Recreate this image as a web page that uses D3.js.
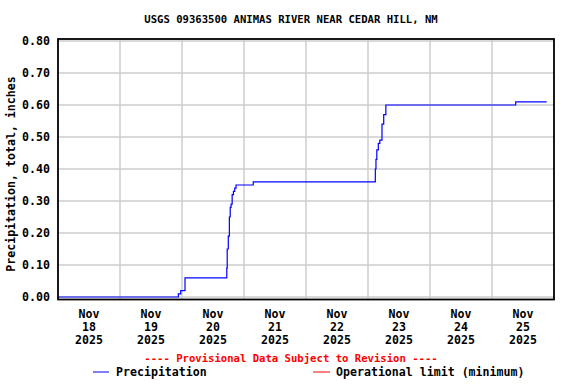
<!DOCTYPE html>
<html>
<head>
<meta charset="utf-8">
<script src="https://cdn.jsdelivr.net/npm/d3@7"></script>
<style>
  body { margin: 0; background: #fff; }
  text { font-family: "DejaVu Sans Mono", monospace; font-weight: bold; font-size: 11.6px; }
</style>
</head>
<body>
<div class="chart"></div>
<script>
const width = 576, height = 384;
const margin = ({top: 39, right: 22, bottom: 85, left: 58});

// precipitation, total (inches) - step series
const times = [
  "2025-11-18T00:00", "2025-11-19T22:35", "2025-11-19T23:30", "2025-11-20T01:10",
  "2025-11-20T17:20", "2025-11-20T17:30", "2025-11-20T17:55", "2025-11-20T18:20",
  "2025-11-20T18:40", "2025-11-20T19:00", "2025-11-20T19:25", "2025-11-20T19:55",
  "2025-11-20T20:25", "2025-11-20T20:55", "2025-11-21T03:35", "2025-11-23T02:50",
  "2025-11-23T03:05", "2025-11-23T03:25", "2025-11-23T04:00", "2025-11-23T04:35",
  "2025-11-23T05:25", "2025-11-23T06:05", "2025-11-23T06:55", "2025-11-25T09:10",
  "2025-11-25T21:10"
];
const precip = [
  0.00, 0.01, 0.02, 0.06,
  0.09, 0.15, 0.19, 0.25,
  0.28, 0.29, 0.32, 0.33,
  0.34, 0.35, 0.36, 0.40,
  0.43, 0.46, 0.48, 0.49,
  0.54, 0.57, 0.60, 0.61,
  0.61
];
const days = ["2025-11-18", "2025-11-19", "2025-11-20", "2025-11-21",
              "2025-11-22", "2025-11-23", "2025-11-24", "2025-11-25", "2025-11-26"];
const yTicks = [0, 0.1, 0.2, 0.3, 0.4, 0.5, 0.6, 0.7, 0.8];

const parse = d3.timeParse("%Y-%m-%dT%H:%M");
const parseDay = d3.timeParse("%Y-%m-%d");
const data = times.map((t, i) => ({t: parse(t), v: precip[i]}));
const dayDates = days.map(parseDay);

const svg = d3.select(".chart").append("svg")
  .attr("width", width).attr("height", height);

const x = d3.scaleTime()
  .domain([dayDates[0], dayDates[dayDates.length - 1]])
  .range([margin.left, width - margin.right]);
const y = d3.scaleLinear()
  .domain([0, 0.8])
  .range([297, 41]);

// grid
svg.append("g").selectAll("line").data(dayDates.slice(1, -1)).join("line")
  .attr("x1", d => x(d)).attr("x2", d => x(d))
  .attr("y1", margin.top).attr("y2", 299)
  .attr("stroke", "#cccccc").attr("stroke-width", 1.5);
svg.append("g").selectAll("line").data(yTicks).join("line")
  .attr("x1", margin.left).attr("x2", width - margin.right)
  .attr("y1", d => y(d)).attr("y2", d => y(d))
  .attr("stroke", "#cccccc").attr("stroke-width", 1.5);

// series
const line = d3.line().x(d => x(d.t)).y(d => y(d.v)).curve(d3.curveStepAfter);
svg.append("path").datum(data)
  .attr("d", line).attr("fill", "none")
  .attr("stroke", "#0000ff").attr("stroke-width", 1.2);

// frame
svg.append("rect")
  .attr("x", margin.left).attr("y", margin.top)
  .attr("width", width - margin.right - margin.left).attr("height", 299.5 - margin.top)
  .attr("fill", "none").attr("stroke", "#000").attr("stroke-width", 1.8);

// y axis labels
const yAxis = d3.axisLeft(y).tickValues(yTicks).tickFormat(d3.format(".2f")).tickSize(0).tickPadding(8);
svg.append("g").attr("transform", `translate(${margin.left},0)`).call(yAxis)
  .call(g => g.select(".domain").remove())
  .selectAll("text").attr("fill", "#000")
  .style("font-family", "DejaVu Sans Mono").style("font-size", "11.6px").style("font-weight", "bold");

// x axis labels (three lines at noon)
const fmtM = d3.timeFormat("%b"), fmtD = d3.timeFormat("%d"), fmtY = d3.timeFormat("%Y");
const xl = svg.append("g").selectAll("text").data(dayDates.slice(0, -1)).join("text")
  .attr("x", d => x(d3.timeHour.offset(d, 12)))
  .attr("text-anchor", "middle");
xl.append("tspan").attr("x", d => x(d3.timeHour.offset(d, 12))).attr("y", 318).text(fmtM);
xl.append("tspan").attr("x", d => x(d3.timeHour.offset(d, 12))).attr("y", 331).text(fmtD);
xl.append("tspan").attr("x", d => x(d3.timeHour.offset(d, 12))).attr("y", 344).text(fmtY);

// title
svg.append("text").attr("x", 291).attr("y", 23).attr("text-anchor", "middle")
  .style("font-size", "10.6px")
  .text("USGS 09363500 ANIMAS RIVER NEAR CEDAR HILL, NM");

// y title
svg.append("text").attr("transform", "translate(15,174) rotate(-90)")
  .attr("text-anchor", "middle").text("Precipitation, total, inches");

// provisional note
svg.append("text").attr("x", 291).attr("y", 362).attr("text-anchor", "middle")
  .style("font-size", "10.6px")
  .attr("fill", "#ff0000").text("---- Provisional Data Subject to Revision ----");

// legend
svg.append("line").attr("x1", 93).attr("x2", 109).attr("y1", 372).attr("y2", 372)
  .attr("stroke", "#0000ff");
svg.append("text").attr("x", 116).attr("y", 376).text("Precipitation");
svg.append("line").attr("x1", 313).attr("x2", 330).attr("y1", 372).attr("y2", 372)
  .attr("stroke", "#ff0000");
svg.append("text").attr("x", 336).attr("y", 376).text("Operational limit (minimum)");
</script>
</body>
</html>
